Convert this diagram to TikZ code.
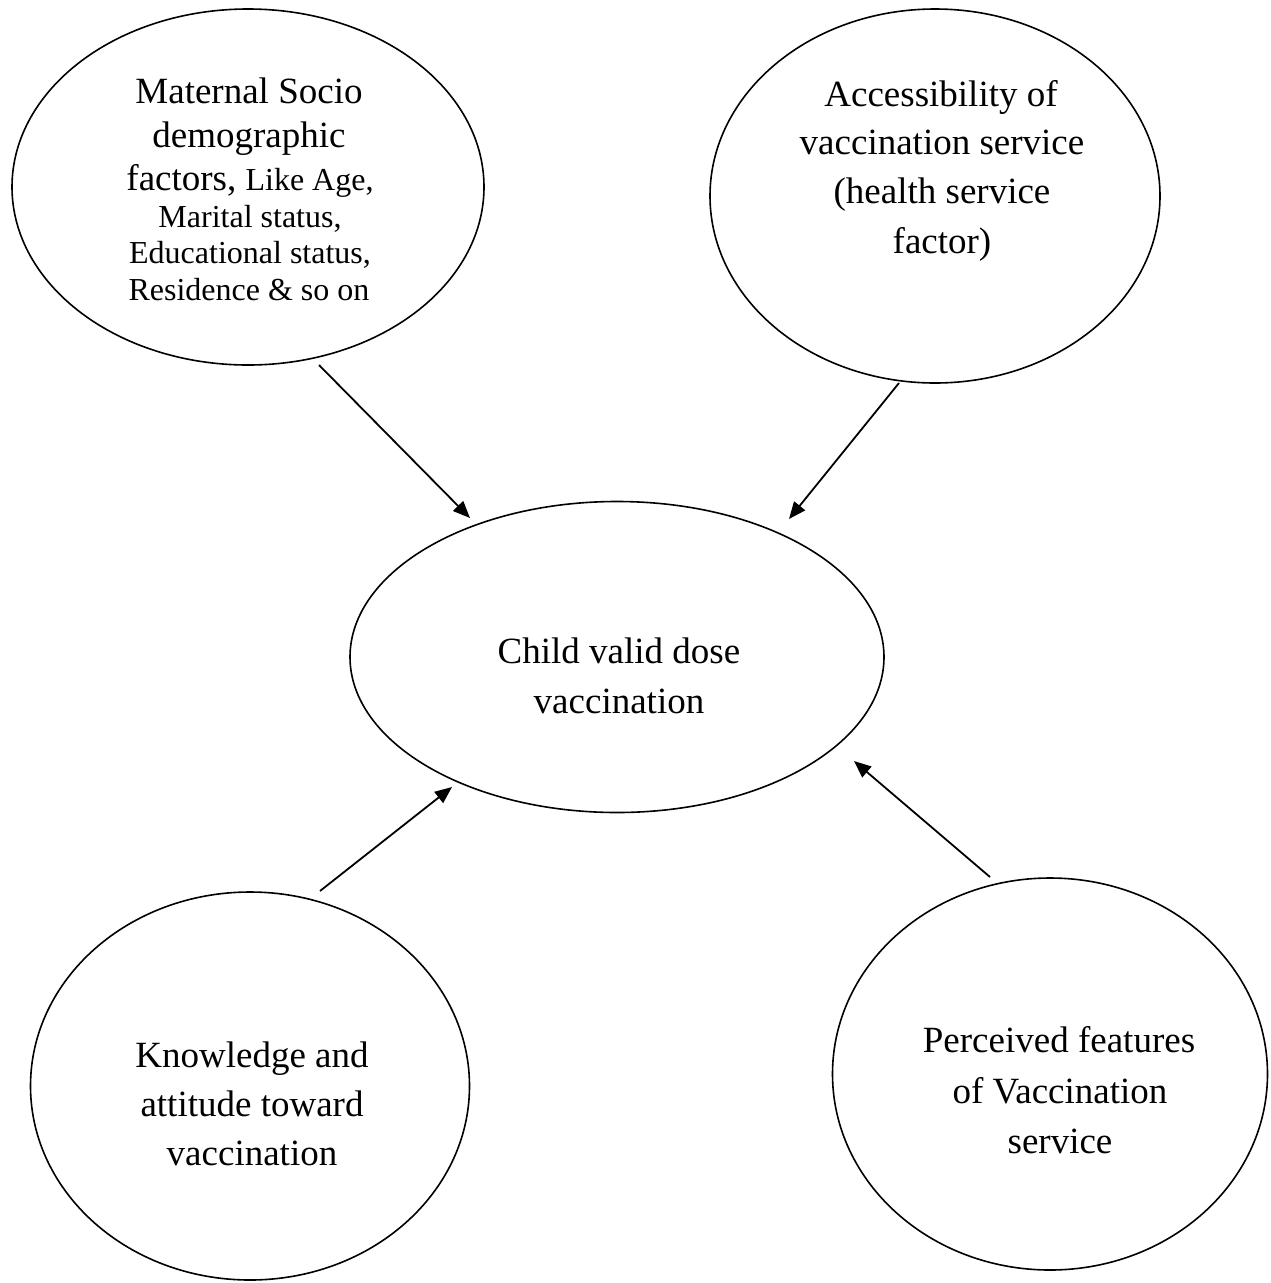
\documentclass[tikz,border=0pt]{standalone}
\usepackage{fontspec}
\setmainfont{Liberation Serif}
\usetikzlibrary{shapes.geometric,arrows.meta}
\newcommand\fbig{\fontsize{37}{45}\selectfont}
\newcommand\fsmall{\fontsize{32}{37}\selectfont}
\begin{document}
\begin{tikzpicture}[x=1pt,y=-1pt,
  ell/.style={ellipse,draw,line width=1.6pt,inner sep=0pt,outer sep=0pt},
  txt/.style={inner sep=0pt,anchor=base,font=\fbig},
  stxt/.style={inner sep=0pt,anchor=base,font=\fsmall},
  arr/.style={line width=1.8pt,-{Triangle[length=17pt,width=14pt]}}]
\useasboundingbox (0,0) rectangle (1270,1283);
\fill[white] (0,0) rectangle (1270,1283);
% ellipses
\node[ell,minimum width=472pt,minimum height=356pt] (e1) at (248,187) {};
\node[ell,minimum width=450pt,minimum height=374pt] (e2) at (935,196) {};
\node[ell,minimum width=534pt,minimum height=311pt] (c)  at (617,657) {};
\node[ell,minimum width=439pt,minimum height=388pt] (e4) at (250,1086) {};
\node[ell,minimum width=435pt,minimum height=392pt] (e5) at (1050,1074) {};
% texts of e1
\node[txt]  (t1a) at (249,103) {Maternal Socio};
\node[txt]  (t1b) at (249,147) {demographic};
\node[txt]  (t1c) at (250,190) {factors, {\fsmall Like Age,}};
\node[stxt] (t1d) at (250,227) {Marital status,};
\node[stxt] (t1e) at (250,263) {Educational status,};
\node[stxt] (t1f) at (249,300) {Residence \& so on};
% texts of e2
\node[txt] (t2a) at (941,106) {Accessibility of};
\node[txt] (t2b) at (942,154) {vaccination service};
\node[txt] (t2c) at (942,203) {(health service};
\node[txt] (t2d) at (942,253) {factor)};
% texts of centre
\node[txt] (tca) at (619,663) {Child valid dose};
\node[txt] (tcb) at (619,713) {vaccination};
% texts of e4
\node[txt] (t4a) at (252,1067) {Knowledge and};
\node[txt] (t4b) at (252,1116) {attitude toward};
\node[txt] (t4c) at (252,1165) {vaccination};
% texts of e5
\node[txt] (t5a) at (1059,1052) {Perceived features};
\node[txt] (t5b) at (1060,1103) {of Vaccination};
\node[txt] (t5c) at (1060,1153) {service};
% arrows
\draw[arr] ([shift={(71,178)}]e1.center) -- ([shift={(-147,-139)}]c.center);
\draw[arr] ([shift={(-36,187)}]e2.center) -- ([shift={(172,-138)}]c.center);
\draw[arr] ([shift={(70,-195)}]e4.center) -- ([shift={(-165,130)}]c.center);
\draw[arr] ([shift={(-60,-197)}]e5.center) -- ([shift={(237,104)}]c.center);
\end{tikzpicture}
\end{document}
